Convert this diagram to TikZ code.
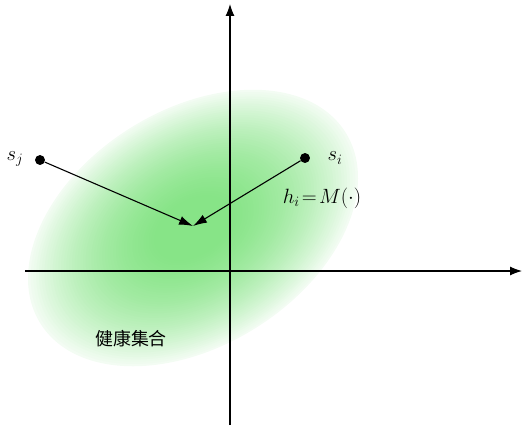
\documentclass[tikz,border=0pt]{standalone}
\usepackage{fontspec}
\newfontfamily\cjk{Noto Sans CJK SC}
\usetikzlibrary{arrows.meta}
\definecolor{hgreen}{RGB}{135,228,135}
\tikzset{
  axis/.style={line width=1.1pt,-{Latex[length=12pt,width=9pt]}},
  conn/.style={line width=1.1pt,-{Latex[length=14pt,width=9pt]}},
  dot/.style={circle,fill=black,inner sep=0pt,minimum size=10pt},
  lbl/.style={inner sep=0pt,font=\fontsize{21}{24}\selectfont}
}
\begin{document}
\begin{tikzpicture}[x=1bp,y=-1bp]
\useasboundingbox (0,0) rectangle (524,427);
% ellipse (layered gradient)
\begin{scope}[rotate around={32:(193,228)}]
\foreach \k in {0,...,59}{
  \pgfmathsetmacro{\s}{1-\k/60}
  \pgfmathsetmacro{\p}{min(100,10+95*(1-\s*\s))}
  \fill[hgreen!\p!white] (193,228) ellipse [x radius={180*\s},y radius={118*\s}];
}
\end{scope}
% axes
\coordinate (xs) at (25,271);
\coordinate (xe) at (522,271);
\coordinate (ys) at (230,425);
\coordinate (ye) at (230,4);
\draw[axis] (xs) -- (xe);
\draw[axis] (ys) -- (ye);
% points
\node[dot] (sj) at (40,160) {};
\node[dot] (si) at (305,158) {};
\coordinate (m) at (193,226);
\draw[conn] (sj) -- (m);
\draw[conn] (si) -- (m);
% labels
\node[lbl] (lj) at (15,159) {$s_j$};
\node[lbl] (li) at (335,158) {$s_i$};
\node[lbl] (lh) at (322,198) {$h_i\!=\!M(\cdot)$};
\node[inner sep=0pt,font=\cjk\fontsize{18}{20}\selectfont] (set) at (131,339) {健康集合};
\end{tikzpicture}
\end{document}
